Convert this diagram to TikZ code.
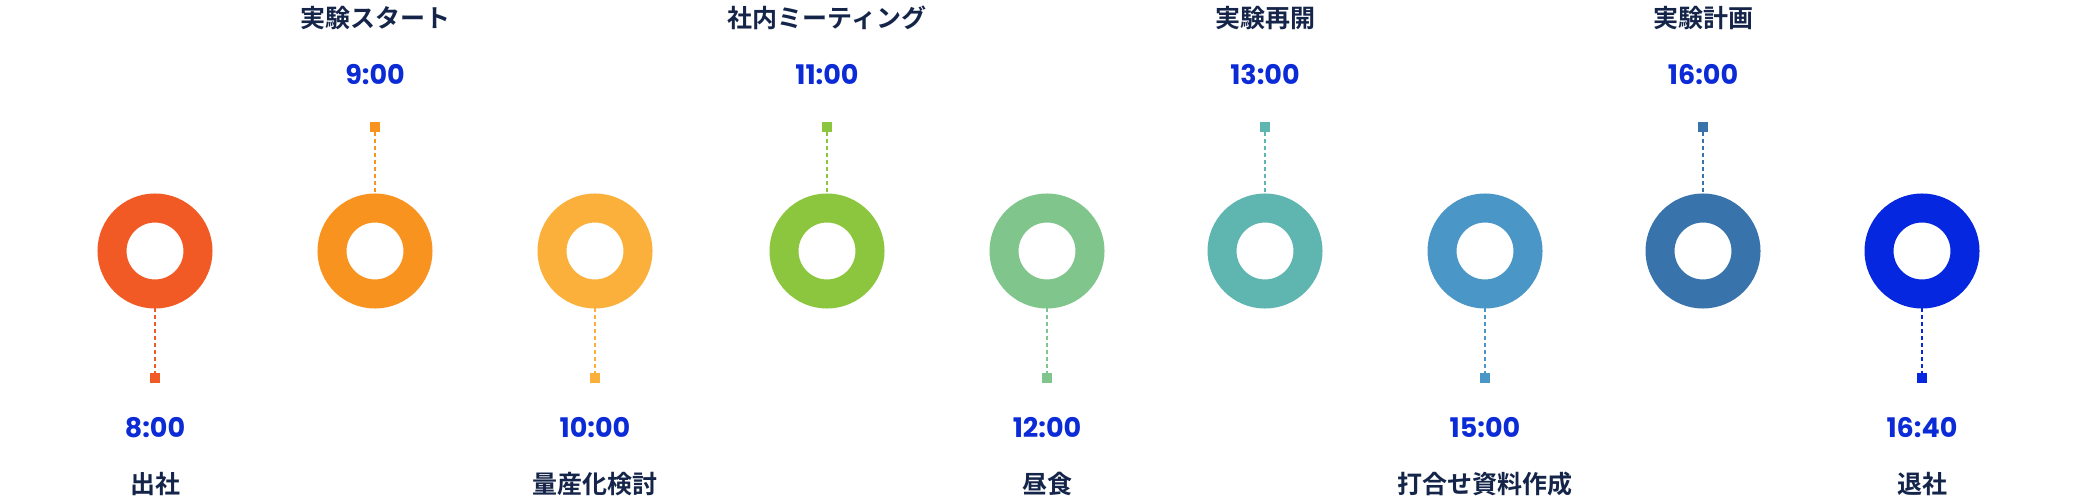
\documentclass[tikz,border=0pt]{standalone}
\usepackage{fontspec}
\newfontfamily\jp{Noto Sans CJK JP}[BoldFont={* Bold}]
\newfontfamily\tm{Poppins}[BoldFont={* Bold}]
\definecolor{c1}{HTML}{F15A24}\definecolor{c2}{HTML}{F7931E}\definecolor{c3}{HTML}{FBB03B}
\definecolor{c4}{HTML}{8CC63F}\definecolor{c5}{HTML}{7FC58C}\definecolor{c6}{HTML}{5FB5B0}
\definecolor{c7}{HTML}{4A96C6}\definecolor{c8}{HTML}{3873AC}\definecolor{c9}{HTML}{0527E0}
\definecolor{tblue}{HTML}{0B2BD6}\definecolor{navy}{HTML}{15254A}
\tikzset{ring/.style={circle,draw,line width=29pt,minimum size=86pt,inner sep=0pt},
 sq/.style={rectangle,minimum size=10pt,inner sep=0pt},
 link/.style={line width=1.6pt,dash pattern=on 4pt off 3pt},
 time/.style={font=\tm\bfseries\fontsize{27}{29}\selectfont,text=tblue},
 lab/.style={font=\jp\bfseries\fontsize{25}{27}\selectfont,text=navy}}
\begin{document}
\begin{tikzpicture}[x=1pt,y=-1pt]
\useasboundingbox (0,0) rectangle (2082,502);
\foreach \i/\x/\c/\t/\l/\up in {1/155/c1/8:00/出社/0,2/375/c2/9:00/実験スタート/1,3/595/c3/10:00/量産化検討/0,4/827/c4/11:00/社内ミーティング/1,5/1047/c5/12:00/昼食/0,6/1265/c6/13:00/実験再開/1,7/1485/c7/15:00/打合せ資料作成/0,8/1703/c8/16:00/実験計画/1,9/1922/c9/16:40/退社/0}{
 \node[ring,draw=\c] (r\i) at (\x,251) {};
 \ifnum\up=1
  \node[sq,fill=\c] (s\i) at (\x,127) {};
  \draw[link,draw=\c] (s\i) -- (r\i.north);
  \node[time] (t\i) at (\x,75) {\t};
  \node[lab] (l\i) at (\x,18) {\l};
 \else
  \node[sq,fill=\c] (s\i) at (\x,378) {};
  \draw[link,draw=\c] (r\i.south) -- (s\i);
  \node[time] (t\i) at (\x,428) {\t};
  \node[lab] (l\i) at (\x,484) {\l};
 \fi
}
\end{tikzpicture}
\end{document}
